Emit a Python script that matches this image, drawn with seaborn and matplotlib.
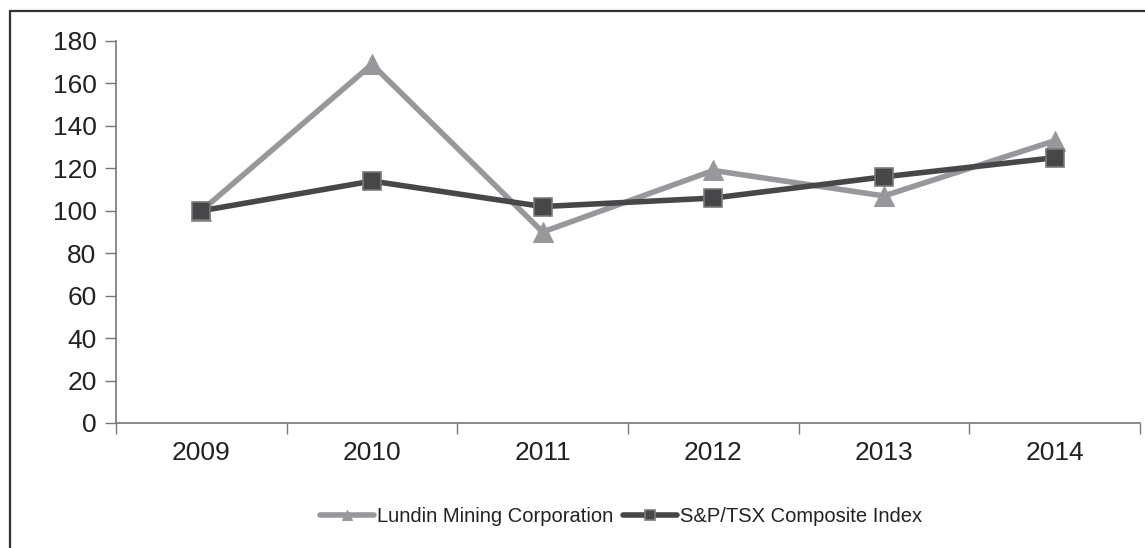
import matplotlib
matplotlib.use("Agg")
import matplotlib.pyplot as plt
import seaborn as sns
import pandas as pd
import numpy as np
from matplotlib.patches import Rectangle

years = ["2009", "2010", "2011", "2012", "2013", "2014"]
lundin = [100, 169, 90, 119, 107, 133]
sptsx = [100, 114, 102, 106, 116, 125]
yticks = [0, 20, 40, 60, 80, 100, 120, 140, 160, 180]

sns.set_theme(style="white")
plt.rcParams['font.family'] = ['Liberation Sans', 'DejaVu Sans']

df = pd.DataFrame({
    "pos": list(range(len(years))) * 2,
    "value": lundin + sptsx,
    "series": ["Lundin Mining Corporation"] * len(years) + ["S&P/TSX Composite Index"] * len(years),
})

fig = plt.figure(figsize=(11.45, 5.48), dpi=100)
ax = fig.add_axes([116/1145, 1 - 423/548, (1140-116)/1145, (423-41)/548])

gray = "#97989b"
dark = "#47474a"

sns.lineplot(data=df[df.series == "Lundin Mining Corporation"], x="pos", y="value", ax=ax,
             color=gray, lw=4, marker="^", markersize=14, markeredgecolor=gray,
             label="Lundin Mining Corporation")
sns.lineplot(data=df[df.series == "S&P/TSX Composite Index"], x="pos", y="value", ax=ax,
             color=dark, lw=4, marker="s", markersize=13, markeredgecolor="#7a7a7c",
             markeredgewidth=1.2, label="S&P/TSX Composite Index")

ax.set_xlim(-0.5, len(years) - 0.5)
ax.set_ylim(0, 180)
ax.set_yticks(yticks)
ax.set_yticklabels([str(v) for v in yticks])
ax.set_xticks(range(len(years)))
ax.set_xticklabels(years)
ax.set_xticks(np.arange(-0.5, len(years), 1.0), minor=True)
ax.tick_params(axis="x", which="major", length=0, pad=13, labelsize=19, labelcolor="#222222")
ax.tick_params(axis="x", which="minor", length=8, width=1, color="#777777", direction="out", bottom=True)
ax.tick_params(axis="y", length=8, width=1, color="#777777", direction="out", left=True,
               pad=6, labelsize=19, labelcolor="#222222")
ax.set_xlabel("")
ax.set_ylabel("")
for s in ["top", "right"]:
    ax.spines[s].set_visible(False)
for s in ["left", "bottom"]:
    ax.spines[s].set_color("#777777")
    ax.spines[s].set_linewidth(1.2)

leg = ax.legend(loc="center", bbox_to_anchor=(621/1145, 1 - 517/548), bbox_transform=fig.transFigure,
                ncol=2, frameon=False, fontsize=14.5, handlelength=2.7, handletextpad=0.15,
                columnspacing=0.45, markerscale=0.55)
for t in leg.get_texts():
    t.set_color("#222222")

fig.patches.append(Rectangle((10/1145, -0.1), 1.2, 1.1 - 11/548, transform=fig.transFigure,
                             fill=False, edgecolor="#333333", lw=1.6))

fig.savefig("out.png", dpi=100)
